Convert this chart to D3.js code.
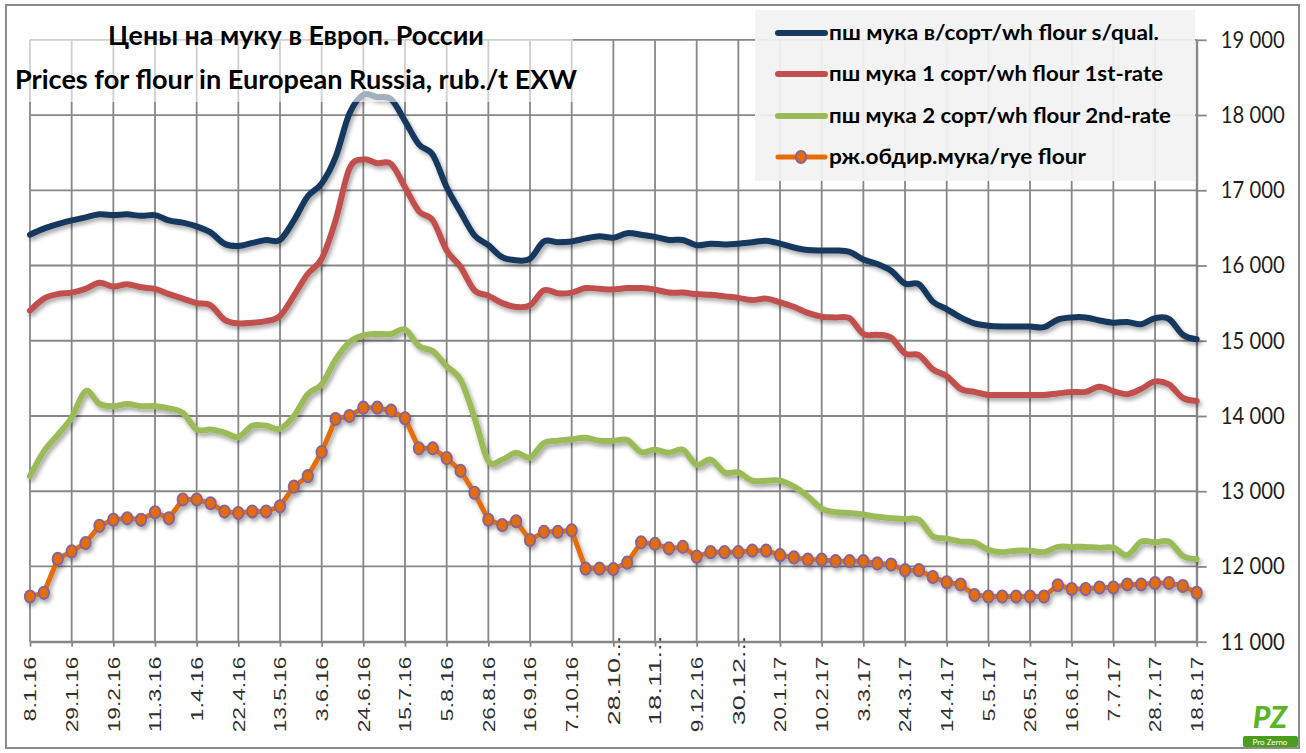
<!DOCTYPE html>
<html><head><meta charset="utf-8">
<script src="https://cdn.jsdelivr.net/npm/d3@7"></script>
<style>html,body{margin:0;padding:0;background:#fff;} svg{display:block}</style>
</head><body>
<svg id="chart" width="1306" height="753"></svg>
<script>
// ---------- DATA ----------
const categories = [
 "8.1.16","15.1.16","22.1.16","29.1.16","5.2.16","12.2.16","19.2.16","26.2.16","4.3.16","11.3.16",
 "18.3.16","25.3.16","1.4.16","8.4.16","15.4.16","22.4.16","29.4.16","6.5.16","13.5.16","20.5.16",
 "27.5.16","3.6.16","10.6.16","17.6.16","24.6.16","1.7.16","8.7.16","15.7.16","22.7.16","29.7.16",
 "5.8.16","12.8.16","19.8.16","26.8.16","2.9.16","9.9.16","16.9.16","23.9.16","30.9.16","7.10.16",
 "14.10.16","21.10.16","28.10.16","4.11.16","11.11.16","18.11.16","25.11.16","2.12.16","9.12.16","16.12.16",
 "23.12.16","30.12.16","6.1.17","13.1.17","20.1.17","27.1.17","3.2.17","10.2.17","17.2.17","24.2.17",
 "3.3.17","10.3.17","17.3.17","24.3.17","31.3.17","7.4.17","14.4.17","21.4.17","28.4.17","5.5.17",
 "12.5.17","19.5.17","26.5.17","2.6.17","9.6.17","16.6.17","23.6.17","30.6.17","7.7.17","14.7.17",
 "21.7.17","28.7.17","4.8.17","11.8.17","18.8.17"];

const wheatTop = [
 16410,16490,16550,16600,16640,16680,16670,16680,16660,16670,
 16600,16570,16520,16440,16290,16260,16300,16340,16340,16600,
 16920,17090,17440,18020,18270,18240,18210,17920,17610,17470,
 17040,16710,16400,16270,16110,16070,16090,16320,16310,16320,
 16360,16390,16370,16430,16410,16380,16340,16340,16270,16290,
 16280,16290,16310,16330,16290,16240,16205,16200,16200,16180,
 16080,16020,15930,15760,15750,15520,15420,15310,15230,15200,
 15190,15190,15190,15180,15280,15310,15310,15270,15240,15250,
 15220,15300,15290,15080,15020];

const wheat1 = [
 15400,15560,15620,15640,15690,15770,15720,15750,15710,15690,
 15620,15560,15500,15470,15280,15230,15240,15260,15330,15600,
 15890,16090,16600,17290,17410,17360,17350,17040,16720,16600,
 16200,15980,15670,15600,15500,15450,15470,15670,15630,15640,
 15700,15690,15680,15700,15700,15680,15640,15640,15620,15610,
 15590,15570,15540,15560,15510,15450,15370,15320,15310,15300,
 15090,15080,15040,14830,14810,14620,14530,14360,14320,14280,
 14280,14280,14280,14280,14300,14320,14320,14390,14330,14290,
 14360,14460,14420,14240,14200];

const wheat2 = [
 13200,13530,13750,13980,14330,14160,14130,14160,14130,14130,
 14100,14040,13820,13820,13780,13720,13870,13870,13830,14000,
 14290,14420,14750,14980,15070,15090,15090,15150,14930,14860,
 14660,14480,13980,13400,13420,13510,13450,13640,13670,13690,
 13710,13670,13670,13680,13520,13550,13510,13550,13350,13420,
 13250,13250,13140,13140,13140,13060,12930,12770,12720,12710,
 12690,12660,12640,12630,12620,12400,12370,12330,12320,12220,
 12190,12210,12210,12190,12260,12260,12260,12250,12250,12150,
 12330,12320,12330,12140,12100];

const rye = [
 11600,11650,12100,12200,12310,12540,12620,12640,12620,12720,
 12640,12890,12890,12840,12730,12710,12730,12730,12800,13060,
 13200,13520,13960,14000,14110,14110,14070,13970,13570,13570,
 13440,13270,12980,12620,12550,12600,12350,12460,12460,12480,
 11970,11970,11965,12050,12320,12300,12240,12260,12130,12190,
 12190,12190,12210,12210,12150,12120,12090,12090,12070,12070,
 12070,12040,12025,11950,11950,11860,11790,11760,11620,11600,
 11600,11600,11600,11600,11750,11700,11700,11720,11720,11760,
 11760,11780,11780,11740,11650];

const tickLabels = ["8.1.16","29.1.16","19.2.16","11.3.16","1.4.16","22.4.16","13.5.16","3.6.16",
 "24.6.16","15.7.16","5.8.16","26.8.16","16.9.16","7.10.16","28.10...","18.11...","9.12.16","30.12...",
 "20.1.17","10.2.17","3.3.17","24.3.17","14.4.17","5.5.17","26.5.17","16.6.17","7.7.17","28.7.17","18.8.17"];

const yTicks = [11000,12000,13000,14000,15000,16000,17000,18000,19000];

const seriesNames = ["пш мука в/сорт/wh flour s/qual.","пш мука 1 сорт/wh flour 1st-rate",
 "пш мука 2 сорт/wh flour 2nd-rate","рж.обдир.мука/rye flour"];
const seriesColors = ["#17375e","#c0504d","#9bbb59","#e36c09"];
const titleLines = ["Цены на муку в Европ. России","Prices for flour in European Russia, rub./t EXW"];

// ---------- CHART ----------
const svg = d3.select("#chart");
const W = 1306, H = 753;
const x = d3.scalePoint().domain(categories).range([30, 1196.7]);
const y = d3.scaleLinear().domain([11000, 19000]).range([641.7, 39.8]);
const gridColor = "#878787";

const defs = svg.append("defs");
const f = defs.append("filter").attr("id","sh").attr("filterUnits","userSpaceOnUse")
  .attr("x",0).attr("y",0).attr("width",W).attr("height",H);
f.append("feGaussianBlur").attr("in","SourceAlpha").attr("stdDeviation",2.2).attr("result","b");
f.append("feOffset").attr("in","b").attr("dx",2).attr("dy",3).attr("result","o");
f.append("feComponentTransfer").attr("in","o").attr("result","oa")
  .append("feFuncA").attr("type","linear").attr("slope",0.35);
const fm = f.append("feMerge");
fm.append("feMergeNode").attr("in","oa");
fm.append("feMergeNode").attr("in","SourceGraphic");

// frame
svg.append("rect").attr("x",6).attr("y",5).attr("width",1293).attr("height",743)
  .attr("fill","#fff").attr("stroke","#8c8c8c").attr("stroke-width",2);

const tickCats = categories.filter((d,i)=>i%3===0);

// gridlines
svg.append("g").selectAll("line").data(yTicks).join("line")
  .attr("x1", x(categories[0])).attr("x2", x(categories[categories.length-1]))
  .attr("y1", d=>y(d)).attr("y2", d=>y(d))
  .attr("stroke", gridColor).attr("stroke-width", 1.8);
svg.append("g").selectAll("line").data(tickCats).join("line")
  .attr("x1", d=>x(d)).attr("x2", d=>x(d))
  .attr("y1", y(19000)).attr("y2", y(11000))
  .attr("stroke", gridColor).attr("stroke-width", 1.8);

// bottom axis
const labelByCat = new Map(tickCats.map((c,i)=>[c, tickLabels[i]]));
const xAxis = svg.append("g").attr("transform",`translate(0,${y(11000)})`)
  .call(d3.axisBottom(x).tickValues(tickCats).tickSize(5).tickSizeOuter(0).tickFormat(d=>labelByCat.get(d)));
xAxis.select(".domain").attr("stroke",gridColor).attr("stroke-width",2);
xAxis.selectAll(".tick line").attr("stroke",gridColor).attr("stroke-width",1.8);
xAxis.selectAll(".tick text")
  .attr("transform","rotate(-90)")
  .attr("text-anchor","end")
  .attr("x", d => labelByCat.get(d).endsWith("...") ? 6 : -15)
  .attr("y", 0).attr("dy","0.36em")
  .attr("font-family","'Liberation Sans', Arial, sans-serif")
  .attr("font-size",16).attr("fill","#303030")
  .attr("textLength", d => labelByCat.get(d).length * (labelByCat.get(d).endsWith("...") ? 11.2 : 10.8))
  .attr("lengthAdjust","spacingAndGlyphs");

// right axis
const fmt = v => d3.format(",")(v).replace(",", " ");
const yAxis = svg.append("g").attr("transform",`translate(${x(categories[categories.length-1])},0)`)
  .call(d3.axisRight(y).tickValues(yTicks).tickSize(10).tickSizeOuter(0).tickPadding(14).tickFormat(fmt));
yAxis.select(".domain").attr("stroke",gridColor).attr("stroke-width",2);
yAxis.selectAll(".tick line").attr("stroke",gridColor).attr("stroke-width",1.8);
yAxis.selectAll(".tick text")
  .attr("font-family","Lato, 'Open Sans', sans-serif").attr("font-size",23).attr("fill","#1e1e1e")
  .attr("textLength",64).attr("lengthAdjust","spacingAndGlyphs");

// series
const smooth = d3.line().x((d,i)=>x(categories[i])).y(d=>y(d)).curve(d3.curveCatmullRom.alpha(0));
const straight = d3.line().x((d,i)=>x(categories[i])).y(d=>y(d));
const sg = svg.append("g").attr("filter","url(#sh)");
[wheat2, wheat1, wheatTop].forEach((s) => {
  const k = s===wheatTop?0:(s===wheat1?1:2);
  sg.append("path").attr("d", smooth(s)).attr("fill","none")
    .attr("stroke", seriesColors[k]).attr("stroke-width",6)
    .attr("stroke-linejoin","round").attr("stroke-linecap","round");
});
sg.append("path").attr("d", straight(rye)).attr("fill","none")
  .attr("stroke", seriesColors[3]).attr("stroke-width",5).attr("stroke-linejoin","round");
sg.append("g").selectAll("ellipse").data(rye).join("ellipse")
  .attr("cx",(d,i)=>x(categories[i])).attr("cy",d=>y(d))
  .attr("rx",5.2).attr("ry",6.2)
  .attr("fill",seriesColors[3]).attr("stroke","#8064a2").attr("stroke-width",1.8);

// title box (semi-transparent)
svg.append("rect").attr("x",8).attr("y",7).attr("width",565).attr("height",95)
  .attr("fill","#fff").attr("opacity",0.6);
svg.append("g").selectAll("text").data(titleLines).join("text")
  .attr("x",296).attr("y",(d,i)=>i===0?45:89)
  .attr("text-anchor","middle")
  .attr("font-family","Lato, 'Open Sans', sans-serif").attr("font-weight","bold")
  .attr("font-size",27).attr("fill","#000")
  .attr("textLength",(d,i)=>i===0?376:562).attr("lengthAdjust","spacingAndGlyphs")
  .text(d=>d);

// legend
svg.append("rect").attr("x",755).attr("y",10).attr("width",440).attr("height",171)
  .attr("fill","#f2f2f2").attr("opacity",0.93);
const legendY = [33, 74, 116, 157];
const legendLen = [330, 334, 342, 257];
const lg = svg.append("g").selectAll("g").data(seriesNames).join("g")
  .attr("transform",(d,i)=>`translate(0,${legendY[i]})`);
lg.append("line").attr("x1",778).attr("x2",825).attr("y1",0).attr("y2",0)
  .attr("stroke",(d,i)=>seriesColors[i]).attr("stroke-width",(d,i)=>i===3?5:6)
  .attr("stroke-linecap","round");
lg.filter((d,i)=>i===3).append("ellipse").attr("cx",801).attr("cy",0).attr("rx",5.2).attr("ry",6.2)
  .attr("fill",seriesColors[3]).attr("stroke","#8064a2").attr("stroke-width",1.8);
lg.append("text").attr("x",829).attr("y",0).attr("dy","0.34em")
  .attr("font-family","Lato, 'Open Sans', sans-serif").attr("font-weight","bold")
  .attr("font-size",21).attr("fill","#000")
  .attr("textLength",(d,i)=>legendLen[i]).attr("lengthAdjust","spacingAndGlyphs")
  .text(d=>d);

// logo
const logo = svg.append("g");
logo.append("text").attr("x",1270).attr("y",728).attr("text-anchor","middle")
  .attr("font-family","Lato, sans-serif").attr("font-weight","900").attr("font-style","italic")
  .attr("font-size",30).attr("fill","#5bb526").text("PZ");
logo.append("rect").attr("x",1243).attr("y",736).attr("width",55).attr("height",11).attr("rx",2).attr("fill","#4a9e1c");
logo.append("text").attr("x",1270).attr("y",745).attr("text-anchor","middle")
  .attr("font-family","Lato, sans-serif").attr("font-size",8).attr("fill","#fff").text("Pro Zerno");
</script>
</body></html>
